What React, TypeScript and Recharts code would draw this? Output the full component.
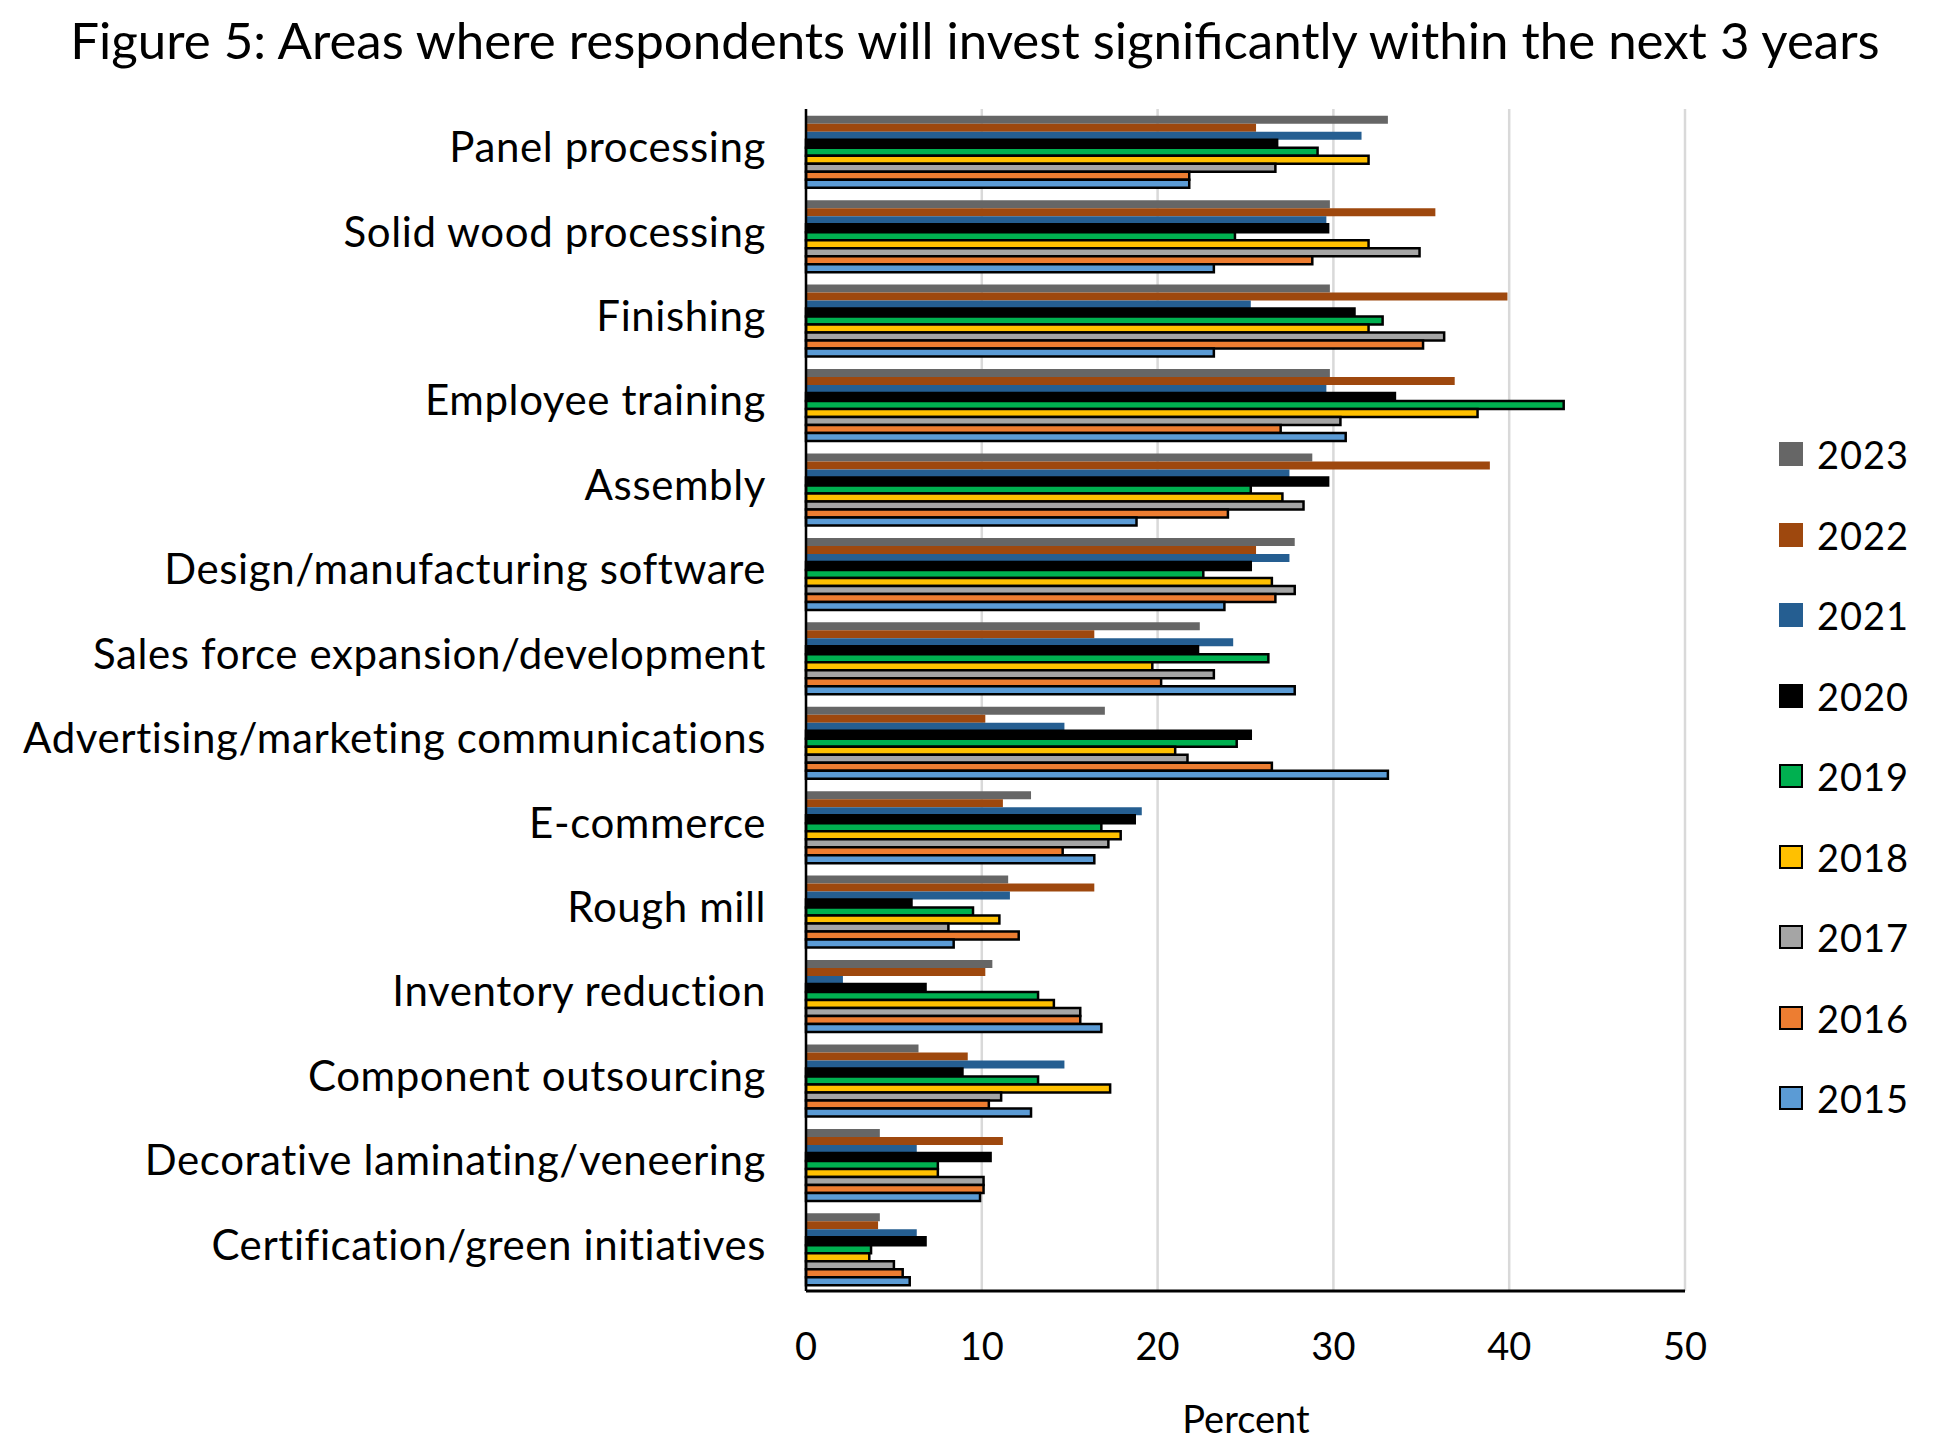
import React from 'react';
import { BarChart, Bar, XAxis, YAxis, CartesianGrid } from 'recharts';

const categories = [
  'Panel processing',
  'Solid wood processing',
  'Finishing',
  'Employee training',
  'Assembly',
  'Design/manufacturing software',
  'Sales force expansion/development',
  'Advertising/marketing communications',
  'E-commerce',
  'Rough mill',
  'Inventory reduction',
  'Component outsourcing',
  'Decorative laminating/veneering',
  'Certification/green initiatives',
];

const y2023 = [33.1, 29.8, 29.8, 29.8, 28.8, 27.8, 22.4, 17.0, 12.8, 11.5, 10.6, 6.4, 4.2, 4.2];
const y2022 = [25.6, 35.8, 39.9, 36.9, 38.9, 25.6, 16.4, 10.2, 11.2, 16.4, 10.2, 9.2, 11.2, 4.1];
const y2021 = [31.6, 29.6, 25.3, 29.6, 27.5, 27.5, 24.3, 14.7, 19.1, 11.6, 2.1, 14.7, 6.3, 6.3];
const y2020 = [26.8, 29.7, 31.2, 33.5, 29.7, 25.3, 22.3, 25.3, 18.7, 6.0, 6.8, 8.9, 10.5, 6.8];
const y2019 = [29.1, 24.4, 32.8, 43.1, 25.3, 22.6, 26.3, 24.5, 16.8, 9.5, 13.2, 13.2, 7.5, 3.7];
const y2018 = [32.0, 32.0, 32.0, 38.2, 27.1, 26.5, 19.7, 21.0, 17.9, 11.0, 14.1, 17.3, 7.5, 3.6];
const y2017 = [26.7, 34.9, 36.3, 30.4, 28.3, 27.8, 23.2, 21.7, 17.2, 8.1, 15.6, 11.1, 10.1, 5.0];
const y2016 = [21.8, 28.8, 35.1, 27.0, 24.0, 26.7, 20.2, 26.5, 14.6, 12.1, 15.6, 10.4, 10.1, 5.5];
const y2015 = [21.8, 23.2, 23.2, 30.7, 18.8, 23.8, 27.8, 33.1, 16.4, 8.4, 16.8, 12.8, 9.9, 5.9];

const xTicks = [0, 10, 20, 30, 40, 50];

const series = [
  { key: '2023', values: y2023, fill: '#666666', stroke: 'none' },
  { key: '2022', values: y2022, fill: '#9e480e', stroke: 'none' },
  { key: '2021', values: y2021, fill: '#255e91', stroke: 'none' },
  { key: '2020', values: y2020, fill: '#000000', stroke: '#000000' },
  { key: '2019', values: y2019, fill: '#00b050', stroke: '#000000' },
  { key: '2018', values: y2018, fill: '#ffc000', stroke: '#000000' },
  { key: '2017', values: y2017, fill: '#a5a5a5', stroke: '#000000' },
  { key: '2016', values: y2016, fill: '#ed7d31', stroke: '#000000' },
  { key: '2015', values: y2015, fill: '#5b9bd5', stroke: '#000000' },
];

const data = categories.map((category, i) => {
  const row: Record<string, string | number> = { category };
  series.forEach((s) => {
    row[s.key] = s.values[i];
  });
  return row;
});

const FONT = 'Lato, "Open Sans", sans-serif';

function LegendBox() {
  return (
    <div style={{ position: 'absolute', left: 1779, top: 414, width: 170, fontFamily: FONT }}>
      {series.map((s) => (
        <div key={s.key} style={{ display: 'flex', alignItems: 'center', height: 80.5 }}>
          <div
            style={{
              width: 20,
              height: 20,
              background: s.fill,
              border: s.stroke === 'none' ? '2px solid transparent' : '2px solid #000',
              marginRight: 14,
            }}
          />
          <span style={{ fontSize: 38, color: '#000', letterSpacing: 1 }}>{s.key}</span>
        </div>
      ))}
    </div>
  );
}

export default function App() {
  return (
    <div
      style={{
        position: 'absolute',
        left: 0,
        top: 0,
        width: 1950,
        height: 1450,
        background: '#fff',
        fontFamily: FONT,
      }}
    >
      <div
        style={{
          position: 'absolute',
          top: 9,
          left: 0,
          width: 1950,
          textAlign: 'center',
          fontSize: 51,
          color: '#000',
        }}
      >
        Figure 5: Areas where respondents will invest significantly within the next 3 years
      </div>
      <div style={{ position: 'absolute', left: 0, top: 0 }}>
        <BarChart
          width={1950}
          height={1450}
          data={data}
          layout="vertical"
          margin={{ top: 109, right: 265, bottom: 99, left: 0 }}
          barCategoryGap="8%"
          barGap={0}
        >
          <CartesianGrid horizontal={false} stroke="#d9d9d9" strokeWidth={2.5} />
          <XAxis
            type="number"
            domain={[0, 50]}
            ticks={xTicks}
            height={60}
            tickLine={false}
            tickSize={0}
            tickMargin={42}
            axisLine={{ stroke: '#000', strokeWidth: 3 }}
            tick={{ fill: '#000', fontSize: 38, fontFamily: FONT }}
          />
          <YAxis
            type="category"
            dataKey="category"
            width={806}
            tickLine={false}
            tickSize={0}
            tickMargin={40}
            interval={0}
            axisLine={{ stroke: '#000', strokeWidth: 2.5 }}
            tick={{ fill: '#000', fontSize: 42, fontFamily: FONT, letterSpacing: 0.6, dy: -4 }}
          />
          {series.map((s) => (
            <Bar
              key={s.key}
              dataKey={s.key}
              fill={s.fill}
              stroke={s.stroke}
              strokeWidth={s.stroke === 'none' ? 0 : 2.5}
              isAnimationActive={false}
            />
          ))}
        </BarChart>
      </div>
      <LegendBox />
      <div
        style={{
          position: 'absolute',
          top: 1395,
          left: 1146,
          width: 200,
          textAlign: 'center',
          fontSize: 38,
          color: '#000',
        }}
      >
        Percent
      </div>
    </div>
  );
}
